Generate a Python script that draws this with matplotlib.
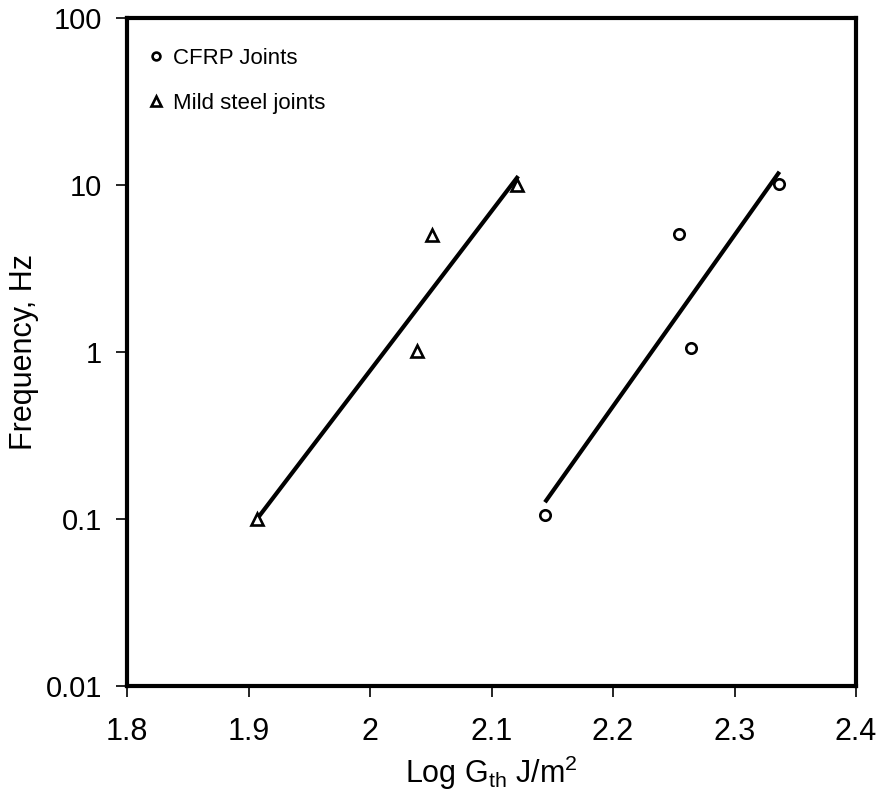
import matplotlib
matplotlib.use("Agg")
import matplotlib.pyplot as plt
from matplotlib.ticker import FixedLocator, FixedFormatter, NullLocator

plt.rcParams['font.family'] = ['Liberation Sans', 'DejaVu Sans']

# Data
cfrp_x = [2.144, 2.254, 2.264, 2.337]
cfrp_y = [0.105, 5.1, 1.05, 10.2]
steel_x = [1.907, 2.039, 2.051, 2.121]
steel_y = [0.1, 1.02, 5.0, 10.0]

# Fit lines (end points)
steel_fit_x = [1.907, 2.122]
steel_fit_y = [0.1, 11.3]
cfrp_fit_x = [2.144, 2.337]
cfrp_fit_y = [0.126, 12.0]

xticks = [1.8, 1.9, 2.0, 2.1, 2.2, 2.3, 2.4]
xticklabels = ["1.8", "1.9", "2", "2.1", "2.2", "2.3", "2.4"]
yticks = [0.01, 0.1, 1, 10, 100]
yticklabels = ["0.01", "0.1", "1", "10", "100"]

fig = plt.figure(figsize=(8.8, 7.94), dpi=100)
ax = fig.add_axes([127/880, 1-686/794, (856-127)/880, (686-18)/794])

ax.plot(steel_fit_x, steel_fit_y, color='black', lw=3.0, solid_capstyle='butt')
ax.plot(cfrp_fit_x, cfrp_fit_y, color='black', lw=3.0, solid_capstyle='butt')
ax.plot(cfrp_x, cfrp_y, linestyle='none', marker='o', ms=7.5, mfc='white',
        mec='black', mew=1.9, label='CFRP Joints', zorder=3)
ax.plot(steel_x, steel_y, linestyle='none', marker='^', ms=9, mfc='white',
        mec='black', mew=1.9, label='Mild steel joints', zorder=3)

ax.set_yscale('log')
ax.set_xlim(1.8, 2.4)
ax.set_ylim(0.01, 100)
ax.xaxis.set_major_locator(FixedLocator(xticks))
ax.xaxis.set_major_formatter(FixedFormatter(xticklabels))
ax.yaxis.set_major_locator(FixedLocator(yticks))
ax.yaxis.set_major_formatter(FixedFormatter(yticklabels))
ax.yaxis.set_minor_locator(NullLocator())
ax.xaxis.set_minor_locator(NullLocator())

for s in ax.spines.values():
    s.set_linewidth(3)
ax.tick_params(axis='both', direction='out', length=8, width=1.2)
ax.tick_params(axis='y', labelsize=21, pad=10)
ax.tick_params(axis='x', labelsize=22, pad=14)

ax.set_ylabel("Frequency, Hz", fontsize=22, labelpad=5)
ax.set_xlabel(r"Log G$_{\mathregular{th}}$ J/m$^{\mathregular{2}}$", fontsize=22, labelpad=5)

leg = ax.legend(loc='upper left', frameon=False, fontsize=16, handletextpad=0.25,
                handlelength=1.0, borderaxespad=0.3, labelspacing=1.05,
                markerscale=0.75, bbox_to_anchor=(0.003, 0.978))

fig.savefig("out.png", dpi=100)
